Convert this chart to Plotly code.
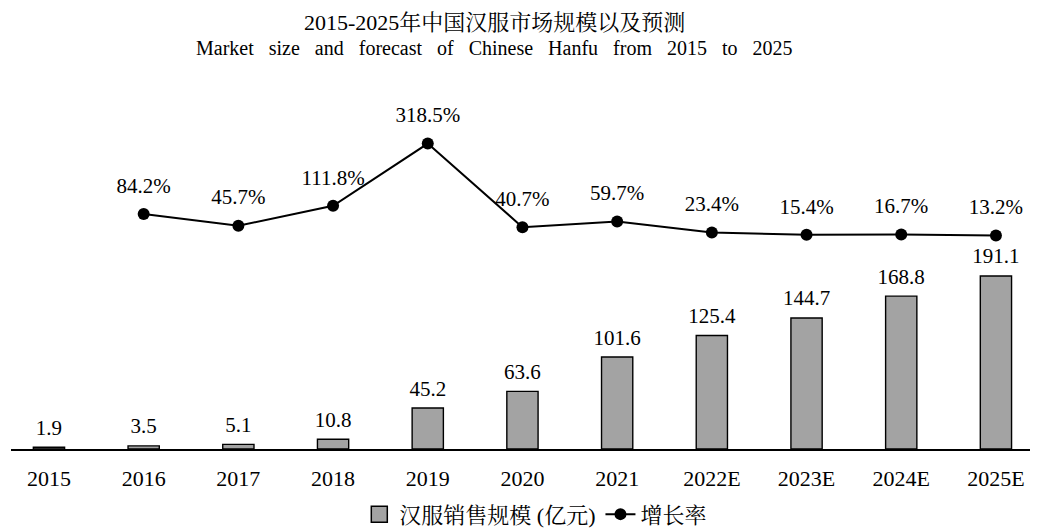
import plotly.graph_objects as go

# %% data
years = ["2015", "2016", "2017", "2018", "2019", "2020", "2021",
         "2022E", "2023E", "2024E", "2025E"]
market_size = [1.9, 3.5, 5.1, 10.8, 45.2, 63.6, 101.6, 125.4, 144.7, 168.8, 191.1]
growth_years = years[1:]
growth_rate = [84.2, 45.7, 111.8, 318.5, 40.7, 59.7, 23.4, 15.4, 16.7, 13.2]

title_cn = "2015-2025年中国汉服市场规模以及预测"
title_en = "Market size and forecast of Chinese Hanfu from 2015 to 2025"

serif = "Liberation Serif, Times New Roman, Noto Serif CJK SC, serif"
gap = "\u00a0\u00a0 "
bar_grey = "#a3a3a3"

# %% figure
fig = go.Figure()

fig.add_trace(go.Bar(
    x=years, y=market_size, showlegend=False,
    marker=dict(color=bar_grey, line=dict(color="black", width=1.4)),
    width=0.33,
))

# legend entry for the bars (bigger box than the default bar swatch)
fig.add_trace(go.Scatter(
    x=[None], y=[None], mode="markers", name="汉服销售规模 (亿元)",
    marker=dict(symbol="square", size=16, color=bar_grey,
                line=dict(color="black", width=1.5)),
))

# bar value labels
fig.add_trace(go.Scatter(
    x=years, y=market_size, mode="markers+text", showlegend=False,
    marker=dict(size=10, opacity=0),
    text=[str(v) for v in market_size], textposition="top center",
    textfont=dict(size=21, color="black", family=serif),
    cliponaxis=False, hoverinfo="skip",
))

fig.add_trace(go.Scatter(
    x=growth_years, y=growth_rate, name="增长率", yaxis="y2",
    mode="lines+markers",
    line=dict(color="black", width=2),
    marker=dict(color="black", size=12),
    cliponaxis=False,
))

# growth rate labels
fig.add_trace(go.Scatter(
    x=growth_years, y=growth_rate, yaxis="y2", mode="markers+text",
    showlegend=False, marker=dict(size=24, opacity=0),
    text=[f"{v}%" for v in growth_rate], textposition="top center",
    textfont=dict(size=21, color="black", family=serif),
    cliponaxis=False, hoverinfo="skip",
))

top, bottom = 100, 85
plot_h = 530 - top - bottom

fig.update_layout(
    width=1038, height=530,
    paper_bgcolor="white", plot_bgcolor="white",
    font=dict(family=serif, size=21, color="black"),
    margin=dict(l=3, r=3, t=top, b=bottom),
    xaxis=dict(
        type="category", range=[-0.401, 10.497],
        showline=True, linecolor="black", linewidth=1.5,
        ticks="", showgrid=False, tickfont=dict(size=22),
        ticklabelstandoff=9,
    ),
    yaxis=dict(range=[0, 376.6], visible=False, showgrid=False),
    yaxis2=dict(range=[-696, 436.6], overlaying="y", visible=False, showgrid=False),
    legend=dict(
        orientation="h", x=0.3375, xanchor="left", y=-0.13, yanchor="top",
        font=dict(size=22), traceorder="normal",
    ),
    annotations=[
        dict(text=title_cn, x=486 / 1038, y=(530 - bottom) / plot_h,
             xref="paper", yref="paper", yanchor="top", showarrow=False,
             borderpad=0, font=dict(size=22, family=serif)),
        dict(text=gap.join(title_en.split(" ")), x=486 / 1038,
             y=(530 - bottom - 39) / plot_h, xref="paper", yref="paper",
             yanchor="middle", showarrow=False, font=dict(size=20, family=serif)),
    ],
)

fig.write_html("out.html")
